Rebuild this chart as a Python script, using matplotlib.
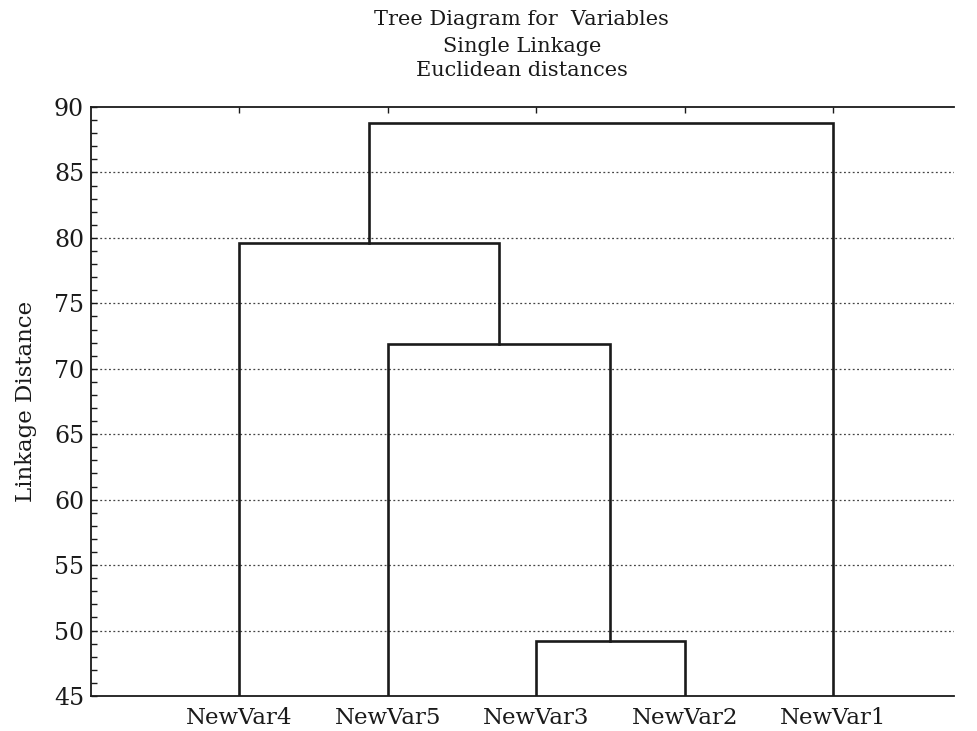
import matplotlib
matplotlib.use("Agg")
import matplotlib.pyplot as plt
from matplotlib.ticker import MultipleLocator

plt.rcParams['font.family'] = ['DejaVu Serif']

## leaf order as drawn, left to right
leaves = ["NewVar4", "NewVar5", "NewVar3", "NewVar2", "NewVar1"]

## merge steps: (left cluster, right cluster, linkage distance)
merges = [
    ("NewVar3", "NewVar2", 49.2),
    ("NewVar5", "C1", 71.9),
    ("NewVar4", "C2", 79.6),
    ("C3", "NewVar1", 88.8),
]

y_bottom = 45
y_top = 90

fig = plt.figure(figsize=(9.77, 7.31), dpi=100)
ax = fig.add_axes([0.0931, 0.0479, 0.8834, 0.8057])

# x position and current height of every node
pos = {}
height = {}
for i, name in enumerate(leaves):
    pos[name] = i + 1
    height[name] = y_bottom

for k, (a, b, d) in enumerate(merges):
    xa, xb = pos[a], pos[b]
    ax.plot([xa, xa, xb, xb], [height[a], d, d, height[b]],
            color="#1a1a1a", lw=1.9, solid_joinstyle="miter", zorder=3)
    cname = "C%d" % (k + 1)
    pos[cname] = (xa + xb) / 2.0
    height[cname] = d

ax.set_xlim(0, 5.815)
ax.set_ylim(y_bottom, y_top)

ax.set_xticks(range(1, len(leaves) + 1))
ax.set_xticklabels(leaves, fontsize=16.5)
ax.tick_params(axis="x", bottom=False, top=True, direction="in", length=4,
               width=1, pad=8, colors="#1a1a1a")

ax.yaxis.set_major_locator(MultipleLocator(5))
ax.yaxis.set_minor_locator(MultipleLocator(1))
ax.tick_params(axis="y", which="major", direction="in", length=4, width=1,
               labelsize=17, pad=5, colors="#1a1a1a")
ax.tick_params(axis="y", which="minor", direction="in", length=4, width=1,
               color="#1a1a1a")

for v in range(50, 90, 5):
    ax.axhline(v, color="#444444", lw=0.9, linestyle=(0, (1.5, 2)), zorder=1)

ax.spines["right"].set_visible(False)
for s in ["left", "top", "bottom"]:
    ax.spines[s].set_linewidth(1.3)
    ax.spines[s].set_color("#1a1a1a")

ax.set_ylabel("Linkage Distance", fontsize=16.5, labelpad=12, color="#1a1a1a")

fig.text(0.534, 0.973, "Tree Diagram for  Variables", ha="center", va="center", fontsize=15, color="#1a1a1a")
fig.text(0.534, 0.937, "Single Linkage", ha="center", va="center", fontsize=15, color="#1a1a1a")
fig.text(0.534, 0.904, "Euclidean distances", ha="center", va="center", fontsize=15, color="#1a1a1a")

fig.savefig("out.png", dpi=100)
